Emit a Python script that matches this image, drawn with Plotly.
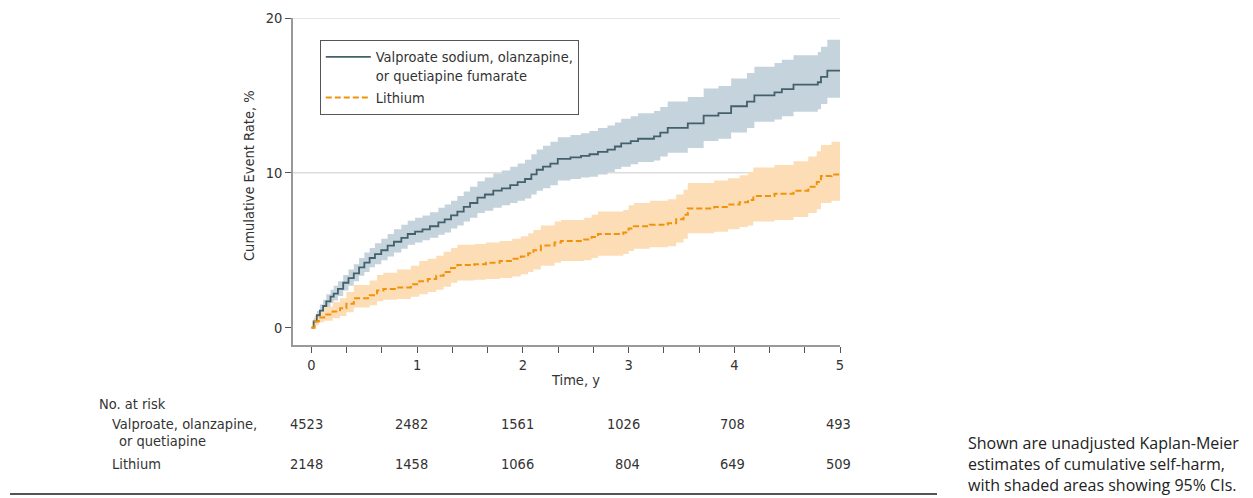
import plotly.graph_objects as go

# ---------------- data ----------------
val_t = [0, 0.02, 0.05, 0.08, 0.11, 0.14, 0.18, 0.21, 0.25, 0.30, 0.35, 0.40, 0.45, 0.50, 0.55, 0.60,
         0.66, 0.72, 0.78, 0.85, 0.91, 0.98, 1.05, 1.12, 1.20, 1.26, 1.32, 1.38, 1.44, 1.50, 1.57, 1.64,
         1.72, 1.80, 1.88, 1.95, 2.02, 2.08, 2.13, 2.19, 2.26, 2.33, 2.45, 2.55, 2.63, 2.71, 2.80, 2.87,
         2.93, 3.02, 3.09, 3.24, 3.30, 3.37, 3.56, 3.71, 3.85, 3.97, 4.12, 4.19, 4.38, 4.45, 4.56, 4.79,
         4.82, 4.88, 5.00]
val_est = [0, 0.4, 0.8, 1.1, 1.4, 1.7, 2.0, 2.2, 2.5, 2.9, 3.2, 3.5, 3.9, 4.2, 4.5, 4.75,
           5.0, 5.3, 5.55, 5.8, 6.05, 6.2, 6.35, 6.55, 6.8, 7.0, 7.25, 7.5, 7.8, 8.05, 8.4, 8.6,
           8.85, 9.0, 9.2, 9.4, 9.6, 9.9, 10.2, 10.4, 10.6, 10.9, 11.0, 11.1, 11.2, 11.35, 11.5, 11.7,
           11.9, 12.05, 12.2, 12.35, 12.6, 12.9, 13.2, 13.7, 13.85, 14.3, 14.6, 15.0, 15.2, 15.4, 15.7, 15.85,
           16.2, 16.6, 16.6]
val_lo = [0, 0.2, 0.5, 0.75, 1.0, 1.3, 1.6, 1.75, 2.05, 2.4, 2.7, 3.0, 3.35, 3.6, 3.9, 4.1,
          4.35, 4.6, 4.85, 5.1, 5.35, 5.5, 5.65, 5.8, 6.0, 6.15, 6.4, 6.6, 6.85, 7.1, 7.4, 7.55,
          7.75, 7.9, 8.05, 8.2, 8.35, 8.6, 8.85, 9.0, 9.2, 9.5, 9.6, 9.7, 9.75, 9.9, 10.05, 10.25,
          10.4, 10.55, 10.7, 10.8, 11.05, 11.3, 11.6, 12.05, 12.2, 12.6, 12.9, 13.3, 13.45, 13.65, 13.95, 14.1,
          14.45, 14.85, 14.85]
val_hi = [0, 0.6, 1.1, 1.5, 1.8, 2.15, 2.45, 2.7, 3.0, 3.4, 3.75, 4.1, 4.5, 4.85, 5.15, 5.45,
          5.75, 6.05, 6.35, 6.65, 6.9, 7.1, 7.25, 7.45, 7.75, 7.95, 8.2, 8.5, 8.8, 9.1, 9.45, 9.7,
          9.95, 10.15, 10.4, 10.6, 10.85, 11.2, 11.5, 11.75, 12.0, 12.3, 12.45, 12.55, 12.7, 12.9, 13.05, 13.25,
          13.5, 13.65, 13.85, 14.0, 14.25, 14.6, 14.9, 15.45, 15.6, 16.1, 16.45, 16.85, 17.1, 17.3, 17.6, 17.8,
          18.15, 18.6, 18.6]

li_t = [0, 0.03, 0.07, 0.12, 0.20, 0.27, 0.33, 0.40, 0.55, 0.62, 0.68, 0.81, 0.94, 1.02, 1.10, 1.18,
        1.25, 1.32, 1.38, 1.54, 1.65, 1.78, 1.90, 1.98, 2.05, 2.10, 2.17, 2.30, 2.36, 2.58, 2.65, 2.71,
        2.95, 3.00, 3.05, 3.20, 3.37, 3.45, 3.52, 3.56, 3.81, 3.94, 4.05, 4.13, 4.18, 4.38, 4.56, 4.70,
        4.78, 4.82, 4.92, 5.00]
li_est = [0, 0.4, 0.65, 0.85, 1.05, 1.25, 1.55, 1.9, 2.1, 2.4, 2.5, 2.6, 2.8, 3.0, 3.15, 3.35,
          3.6, 3.85, 4.05, 4.1, 4.2, 4.3, 4.45, 4.6, 4.8, 5.0, 5.3, 5.5, 5.6, 5.7, 5.85, 6.05,
          6.15, 6.4, 6.55, 6.65, 6.75, 7.0, 7.3, 7.7, 7.8, 7.95, 8.1, 8.25, 8.5, 8.65, 8.85, 9.1,
          9.4, 9.8, 9.9, 9.9]
li_lo = [0, 0.15, 0.35, 0.45, 0.6, 0.75, 1.0, 1.3, 1.45, 1.7, 1.8, 1.85, 2.0, 2.15, 2.3, 2.45,
         2.65, 2.9, 3.05, 3.1, 3.15, 3.2, 3.3, 3.45, 3.6, 3.75, 4.0, 4.2, 4.3, 4.35, 4.5, 4.65,
         4.75, 4.95, 5.1, 5.2, 5.25, 5.5, 5.75, 6.1, 6.2, 6.35, 6.5, 6.6, 6.85, 6.95, 7.15, 7.4,
         7.65, 8.05, 8.2, 8.2]
li_hi = [0, 0.75, 1.05, 1.35, 1.65, 1.9, 2.3, 2.75, 3.05, 3.4, 3.55, 3.75, 4.0, 4.3, 4.45, 4.65,
         4.9, 5.15, 5.35, 5.4, 5.5, 5.6, 5.75, 5.9, 6.1, 6.3, 6.6, 6.85, 6.95, 7.1, 7.3, 7.5,
         7.6, 7.9, 8.05, 8.2, 8.3, 8.6, 8.9, 9.35, 9.5, 9.65, 9.85, 10.05, 10.35, 10.5, 10.75, 11.05,
         11.4, 11.8, 12.0, 12.0]

risk_times = [0, 1, 2, 3, 4, 5]
risk_val = [4523, 2482, 1561, 1026, 708, 493]
risk_li = [2148, 1458, 1066, 804, 649, 509]

y_ticks = [0, 10, 20]
y_grid = [10, 20]
x_ticks = [0, 1, 2, 3, 4, 5]

name_val = "Valproate sodium, olanzapine,<br>or quetiapine fumarate"
name_li = "Lithium"
risk_label_val = "Valproate, olanzapine,"
risk_label_val2 = "or quetiapine"
caption = ("Shown are unadjusted Kaplan-Meier<br>estimates of cumulative self-harm,<br>"
           "with shaded areas showing 95% CIs.")

# ---------------- style ----------------
FONT = "Liberation Sans Narrow, DejaVu Sans Condensed, Arial Narrow, sans-serif"
FS = 14.5
TXT = "#333333"
VAL_LINE = "#44606b"
VAL_BAND = "rgb(197,212,220)"
LI_LINE = "#f0930b"
LI_BAND = "rgb(252,221,182)"

fig = go.Figure()

# bands
fig.add_trace(go.Scatter(x=val_t, y=val_lo, mode="lines", line=dict(width=0, shape="hv"),
                         showlegend=False, hoverinfo="skip"))
fig.add_trace(go.Scatter(x=val_t, y=val_hi, mode="lines", line=dict(width=0, shape="hv"),
                         fill="tonexty", fillcolor=VAL_BAND, showlegend=False, hoverinfo="skip"))
fig.add_trace(go.Scatter(x=li_t, y=li_lo, mode="lines", line=dict(width=0, shape="hv"),
                         showlegend=False, hoverinfo="skip"))
fig.add_trace(go.Scatter(x=li_t, y=li_hi, mode="lines", line=dict(width=0, shape="hv"),
                         fill="tonexty", fillcolor=LI_BAND, showlegend=False, hoverinfo="skip"))

# estimates
fig.add_trace(go.Scatter(x=val_t, y=val_est, mode="lines", name=name_val,
                         line=dict(color=VAL_LINE, width=1.8, shape="hv")))
fig.add_trace(go.Scatter(x=li_t, y=li_est, mode="lines", name=name_li,
                         line=dict(color=LI_LINE, width=2, shape="hv", dash="6px,3px")))

# gridlines (only at 10 and 20)
for g in y_grid:
    fig.add_shape(type="line", xref="paper", x0=0, x1=1, yref="y", y0=g, y1=g,
                  line=dict(color="#dcdcdc", width=1.5), layer="below")


def py(pix):
    return (345 - pix) / 327.0


def px(pix):
    return (pix - 293) / 547.0


def tf(size=FS):
    return dict(size=size, color=TXT, family=FONT)


annotations = []
# axis titles
annotations.append(dict(text="Cumulative Event Rate, %", xref="paper", yref="paper",
                        x=px(249), y=py(176), xanchor="center", yanchor="middle",
                        textangle=-90, showarrow=False, font=tf()))
annotations.append(dict(text="Time, y", xref="x", yref="paper", x=2.5, y=py(380),
                        xanchor="center", yanchor="middle", showarrow=False, font=tf()))

# risk table
for txt, xx, yy in [("No. at risk", 97, 404), (risk_label_val, 110, 424),
                    (risk_label_val2, 117, 441), (name_li, 110, 464)]:
    annotations.append(dict(text=txt, xref="paper", yref="paper", x=px(xx), y=py(yy),
                            xanchor="left", yanchor="middle", showarrow=False, font=tf()))
for t, a, b in zip(risk_times, risk_val, risk_li):
    annotations.append(dict(text=str(a), xref="x", yref="paper", x=t, y=py(424), xanchor="right",
                            yanchor="middle", xshift=13, showarrow=False, font=tf()))
    annotations.append(dict(text=str(b), xref="x", yref="paper", x=t, y=py(464), xanchor="right",
                            yanchor="middle", xshift=13, showarrow=False, font=tf()))

# caption
annotations.append(dict(text=caption, xref="paper", yref="paper", x=px(966), y=py(430),
                        xanchor="left", yanchor="top", align="left", showarrow=False,
                        font=dict(size=16, color="#222222", family="Open Sans, Noto Sans, sans-serif")))

# bottom rule
fig.add_shape(type="line", xref="paper", yref="paper", x0=px(10), x1=px(937), y0=py(494), y1=py(494),
              line=dict(color="#555555", width=2))

# page body has an 8px margin: figure is shifted accordingly
fig.update_layout(
    width=1245, height=490,
    margin=dict(l=285, r=413, t=10, b=153, autoexpand=False),
    paper_bgcolor="white", plot_bgcolor="white",
    font=dict(family=FONT, size=FS, color=TXT),
    showlegend=True,
    legend=dict(x=0.049, y=0.933, xanchor="left", yanchor="top", traceorder="normal",
                bordercolor="#555555", borderwidth=1, bgcolor="white",
                font=tf(), valign="top", itemwidth=45, tracegroupgap=2),
    annotations=annotations,
)
fig.update_xaxes(range=[-0.175, 5.0], tickvals=x_ticks, ticks="outside", ticklen=6,
                 tickcolor="#555555", showline=True, linecolor="#999999", linewidth=1.5,
                 showgrid=False, zeroline=False, tickfont=tf(), automargin=False,
                 minor=dict(dtick=1/3, tick0=0, ticks="outside", ticklen=6, tickcolor="#555555",
                            showgrid=False))
fig.update_yaxes(range=[-1.12, 20.0], tickvals=y_ticks, ticks="outside", ticklen=6,
                 tickcolor="#555555", showline=True, linecolor="#999999", linewidth=1.5,
                 showgrid=False, zeroline=False, tickfont=tf(), automargin=False)

fig.write_html("out.html")
